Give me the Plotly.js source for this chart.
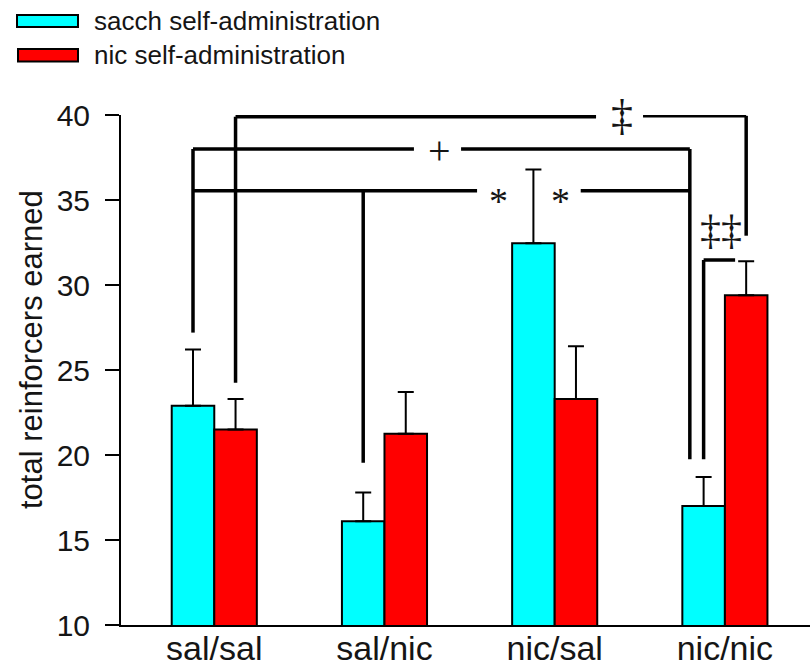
<!DOCTYPE html>
<html>
<head>
<meta charset="utf-8">
<script src="https://cdn.plot.ly/plotly-3.0.1.min.js"></script>
<style>html,body{margin:0;padding:0;background:#fff;}#chart{width:810px;height:669px;}</style>
</head>
<body>
<div id="chart"></div>
<script>
// ---- data ----
const categories = ['sal/sal', 'sal/nic', 'nic/sal', 'nic/nic'];
const seriesNames = ['sacch self-administration', 'nic self-administration'];
const sacchMeans = [22.9, 16.1, 32.45, 17.0];
const sacchErr = [3.3, 1.7, 4.35, 1.7];
const nicMeans = [21.5, 21.25, 23.3, 29.4];
const nicErr = [1.8, 2.45, 3.1, 2.0];
const yTicks = [10, 15, 20, 25, 30, 35, 40];

// ---- layout geometry ----
const W = 810, H = 669;
const M = {l: 121, r: 0, t: 115, b: 44};
const plotW = W - M.l - M.r, plotH = H - M.t - M.b;
const pxX = p => (p - M.l) / plotW;          // pixel -> paper x
const pxY = p => (H - M.b - p) / plotH;      // pixel -> paper y
const OFF = 0.125;                            // bar centre offset within group
const FONT = 'Liberation Sans, Arial, sans-serif';
const SERIF = 'Liberation Serif, Times New Roman, serif';
const INK = '#151515';

const traces = [
  {type: 'bar', name: seriesNames[0], x: categories, y: sacchMeans,
   marker: {color: '#00FFFF', line: {color: '#000', width: 2}},
   error_y: {type: 'data', symmetric: false, array: sacchErr, arrayminus: sacchErr.map(() => 0),
             color: '#000', thickness: 2, width: 8}},
  {type: 'bar', name: seriesNames[1], x: categories, y: nicMeans,
   marker: {color: '#FF0000', line: {color: '#000', width: 2}},
   error_y: {type: 'data', symmetric: false, array: nicErr, arrayminus: nicErr.map(() => 0),
             color: '#000', thickness: 2, width: 8}}
];

// ---- significance brackets (positions in category units) ----
const shapes = [];
const seg = (x0, y0, x1, y1) => shapes.push({type: 'line', xref: 'x', yref: 'y', x0, y0, x1, y1,
  line: {color: '#000', width: 3.5}});
// double dagger bracket
seg(0 + OFF, 24.25, 0 + OFF, 39.9);
seg(0 + OFF, 39.9, 2.243, 39.9);
seg(2.519, 39.95, 3 + OFF, 39.95);
seg(3 + OFF, 39.95, 3 + OFF, 32.9);
// plus bracket
seg(0 - OFF, 27.2, 0 - OFF, 38.0);
seg(0 - OFF, 38.0, 1.173, 38.0);
seg(1.45, 38.0, 2.794, 38.0);
seg(2.794, 38.0, 2.794, 19.75);
// star bracket
seg(0 - OFF, 35.55, 1.544, 35.55);
seg(2.153, 35.55, 2.794, 35.55);
seg(1 - OFF, 35.55, 1 - OFF, 19.55);
// nic/nic within-group bracket
seg(3 - OFF, 19.75, 3 - OFF, 31.47);
seg(3 - OFF, 31.47, 3.06, 31.47);

// ---- legend (drawn manually) ----
shapes.push({type: 'rect', xref: 'paper', yref: 'paper', x0: pxX(17), x1: pxX(78), y0: pxY(27), y1: pxY(15),
  fillcolor: '#00FFFF', line: {color: '#000', width: 2}});
shapes.push({type: 'rect', xref: 'paper', yref: 'paper', x0: pxX(18), x1: pxX(78), y0: pxY(61.5), y1: pxY(49),
  fillcolor: '#FF0000', line: {color: '#000', width: 2}});

const annotations = [
  {xref: 'paper', yref: 'paper', x: pxX(92), y: pxY(21.5), xanchor: 'left', yanchor: 'middle', showarrow: false,
   text: seriesNames[0], font: {family: FONT, size: 26, color: INK}},
  {xref: 'paper', yref: 'paper', x: pxX(92), y: pxY(55), xanchor: 'left', yanchor: 'middle', showarrow: false,
   text: seriesNames[1], font: {family: FONT, size: 26, color: INK}},
  {xref: 'paper', yref: 'paper', x: pxX(31), y: pxY(350), xanchor: 'center', yanchor: 'middle', showarrow: false,
   textangle: -90, text: 'total reinforcers earned', font: {family: FONT, size: 31, color: INK}},
  {xref: 'x', yref: 'y', x: 2.395, y: 39.88, yshift: 2, showarrow: false, text: '‡', font: {family: SERIF, size: 44, color: INK}},
  {xref: 'x', yref: 'y', x: 1.326, y: 38.0, yshift: -1, showarrow: false, text: '+', font: {family: SERIF, size: 40, color: INK}},
  {xref: 'x', yref: 'y', x: 1.667, y: 35.55, yshift: -10, showarrow: false, text: '*', font: {family: SERIF, size: 38, color: INK}},
  {xref: 'x', yref: 'y', x: 2.035, y: 35.55, yshift: -10, showarrow: false, text: '*', font: {family: SERIF, size: 38, color: INK}},
  {xref: 'x', yref: 'y', x: 2.977, y: 33.05, yshift: 3, showarrow: false, text: '‡‡', font: {family: SERIF, size: 42, color: INK}}
];

const layout = {
  width: W, height: H,
  margin: M,
  paper_bgcolor: '#fff', plot_bgcolor: '#fff',
  showlegend: false,
  barmode: 'group', bargap: 0.5, bargroupgap: 0,
  xaxis: {type: 'category', range: [-0.548, 3.5], showline: true, linecolor: '#000', linewidth: 2,
          ticks: '', showgrid: false, zeroline: false, automargin: false, ticklabelstandoff: -8,
          tickfont: {family: FONT, size: 34, color: INK}},
  yaxis: {range: [10, 40], tickvals: yTicks, ticktext: yTicks.map(String), showline: true, linecolor: '#000',
          linewidth: 2, ticks: 'outside', ticklen: 14, tickwidth: 2, tickcolor: '#000', showgrid: false,
          zeroline: false, automargin: false, ticklabelstandoff: 9,
          tickfont: {family: FONT, size: 30, color: INK}},
  shapes, annotations
};

Plotly.newPlot('chart', traces, layout, {displayModeBar: false, staticPlot: true});
</script>
</body>
</html>
